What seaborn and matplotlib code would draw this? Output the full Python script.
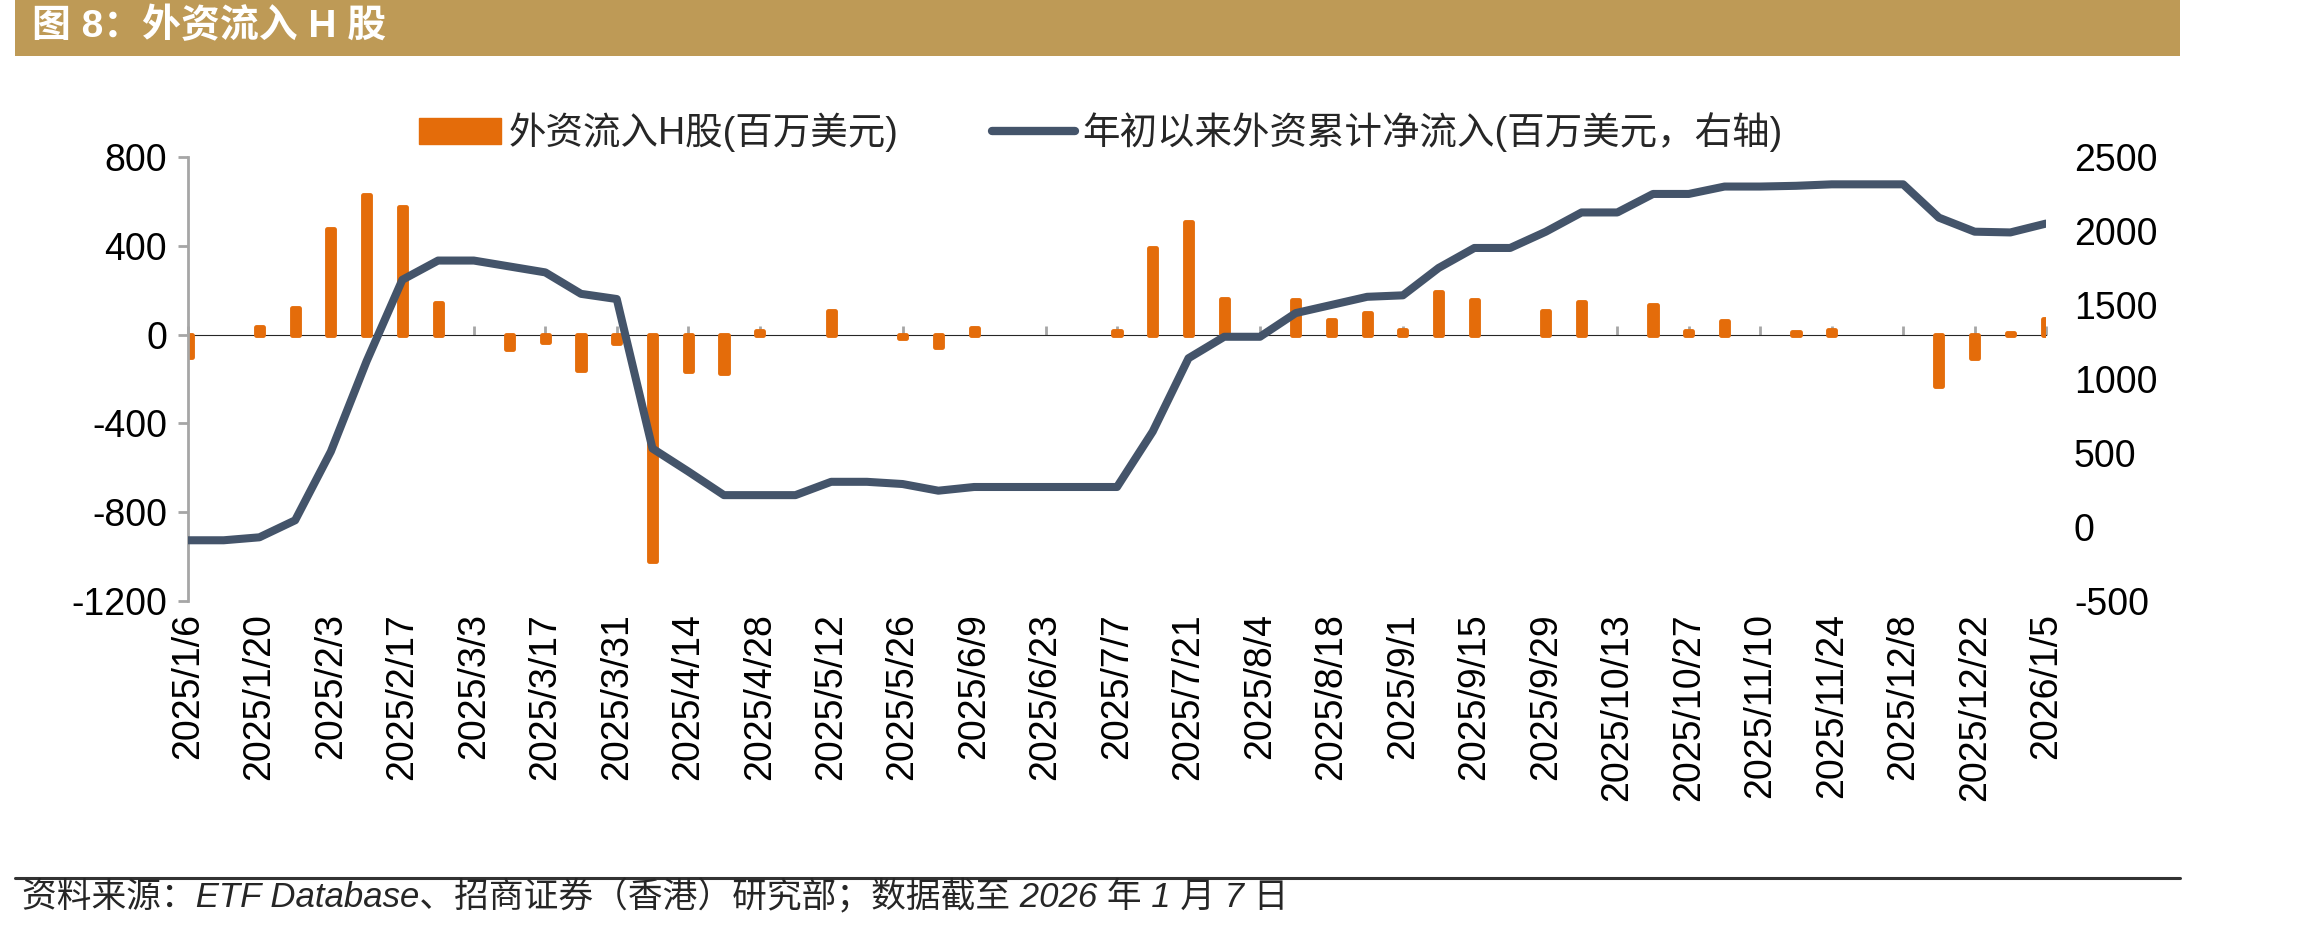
# -*- coding: utf-8 -*-
import numpy as np
import pandas as pd
import matplotlib
matplotlib.use('Agg')
import matplotlib.pyplot as plt
import seaborn as sns
from matplotlib.patches import Rectangle, Patch
from matplotlib.lines import Line2D

# weekly dates 2025/1/6 .. 2026/1/5
weeks = [f"{d.year}/{d.month}/{d.day}" for d in pd.date_range('2025-01-06', periods=53, freq='7D')]

# 外资流入H股 (百万美元), weekly
flows = [-100, 0, 35, 120, 475, 630, 575, 140, 0, -65,
         -35, -160, -40, -1020, -165, -175, 15, 0, 105, 0,
         -15, -55, 30, 0, 0, 0, 15, 390, 505, 160,
         0, 155, 65, 95, 20, 190, 155, 0, 105, 145,
         0, 135, 15, 60, 0, 10, 20, 0, 0, -230,
         -105, 8, 70]

# 年初以来外资累计净流入 (百万美元, 右轴)
cumulative = [-90, -90, -70, 45, 510, 1120, 1670, 1800, 1800, 1760,
              1720, 1575, 1540, 530, 375, 215, 215, 215, 305, 305,
              290, 245, 270, 270, 270, 270, 270, 645, 1140, 1285,
              1285, 1445, 1500, 1555, 1565, 1750, 1885, 1885, 1995, 2125,
              2125, 2250, 2250, 2300, 2300, 2305, 2315, 2315, 2315, 2090,
              1995, 1990, 2050]

bar_label = '外资流入H股(百万美元)'
line_label = '年初以来外资累计净流入(百万美元，右轴)'
title = '图 8：外资流入 H 股'
source = '资料来源：ETF Database、招商证券（香港）研究部；数据截至 2026 年 1 月 7 日'

orange = '#E46C0A'
slate = '#44546A'
grey = '#A6A6A6'

sns.set_style('white')
plt.rcParams['font.family'] = ['Liberation Sans', 'Noto Sans CJK SC']
plt.rcParams['axes.unicode_minus'] = False

df = pd.DataFrame({'week': weeks, 'flow': flows, 'cum': cumulative})
df['flow_bar'] = df['flow'].replace(0, np.nan)
df['pos'] = np.arange(len(df))

fig = plt.figure(figsize=(23.06, 9.32), dpi=100)
ax = fig.add_axes([0.0815, 0.3552, 0.8058, 0.4764])

sns.barplot(data=df, x='week', y='flow_bar', order=weeks, color=orange,
            saturation=1, width=0.2, errorbar=None, ax=ax,
            edgecolor=orange, linewidth=3.5, joinstyle='round')

ax2 = ax.twinx()
sns.lineplot(data=df, x='pos', y='cum', color=slate, linewidth=5.8,
             solid_capstyle='round', ax=ax2)
if ax2.get_legend():
    ax2.get_legend().remove()

ax.set_xlim(0, len(weeks) - 1)
ax.set_ylim(-1200, 800)
ax.set_yticks(range(-1200, 801, 400))
ax2.set_ylim(-500, 2500)
ax2.set_yticks(range(-500, 2501, 500))

tick_pos = list(range(0, len(weeks), 2))
ax.set_xticks(tick_pos)
ax.set_xticklabels([weeks[i] for i in tick_pos], rotation=90)
ax.set_xlabel('')
ax.set_ylabel('')
ax2.set_xlabel('')
ax2.set_ylabel('')

for s in ['top', 'right', 'bottom']:
    ax.spines[s].set_visible(False)
ax.spines['left'].set_color(grey)
ax.spines['left'].set_linewidth(2)
for s in ax2.spines.values():
    s.set_visible(False)

ax.tick_params(axis='y', colors=grey, labelcolor='black', length=7, width=2,
               labelsize=27, pad=8, direction='out')
ax.tick_params(axis='x', length=0, labelsize=27, pad=9, labelcolor='black')
ax2.tick_params(axis='y', length=0, labelsize=27, pad=20, labelcolor='black')

# zero line with tick marks
y0, y1 = ax.get_ylim()
zero_frac = (0 - y0) / (y1 - y0)
sec = ax.secondary_xaxis(zero_frac)
sec.set_xticks(tick_pos)
sec.set_xticklabels([])
sec.spines['bottom'].set_color(grey)
sec.spines['bottom'].set_linewidth(2.3)
sec.tick_params(axis='x', colors=grey, length=6.5, width=2, direction='out')

# legend
handles = [Patch(facecolor=orange, edgecolor=orange),
           Line2D([0], [0], color=slate, linewidth=6, solid_capstyle='round')]
fig.legend(handles, [bar_label, line_label], loc='center left',
           bbox_to_anchor=(0.1815, 0.858), ncol=2, frameon=False,
           fontsize=27, handlelength=2.2, handleheight=0.7,
           handletextpad=0.2, columnspacing=2.5, borderpad=0, borderaxespad=0)

# header banner
fig.patches.append(Rectangle((0.0065, 0.94), 0.939, 0.06, transform=fig.transFigure,
                             facecolor='#BE9A56', edgecolor='none', zorder=0))
fig.text(0.014, 0.972, title, color='white', fontsize=28, fontweight='bold',
         va='center', ha='left')

# footer
fig.add_artist(Line2D([0.0065, 0.9454], [0.058, 0.058], transform=fig.transFigure,
                      color='#333333', linewidth=2.2))
fig.text(0.0095, 0.0375, source, fontsize=25, style='italic', va='center', ha='left')

fig.savefig('out.png', dpi=100)
